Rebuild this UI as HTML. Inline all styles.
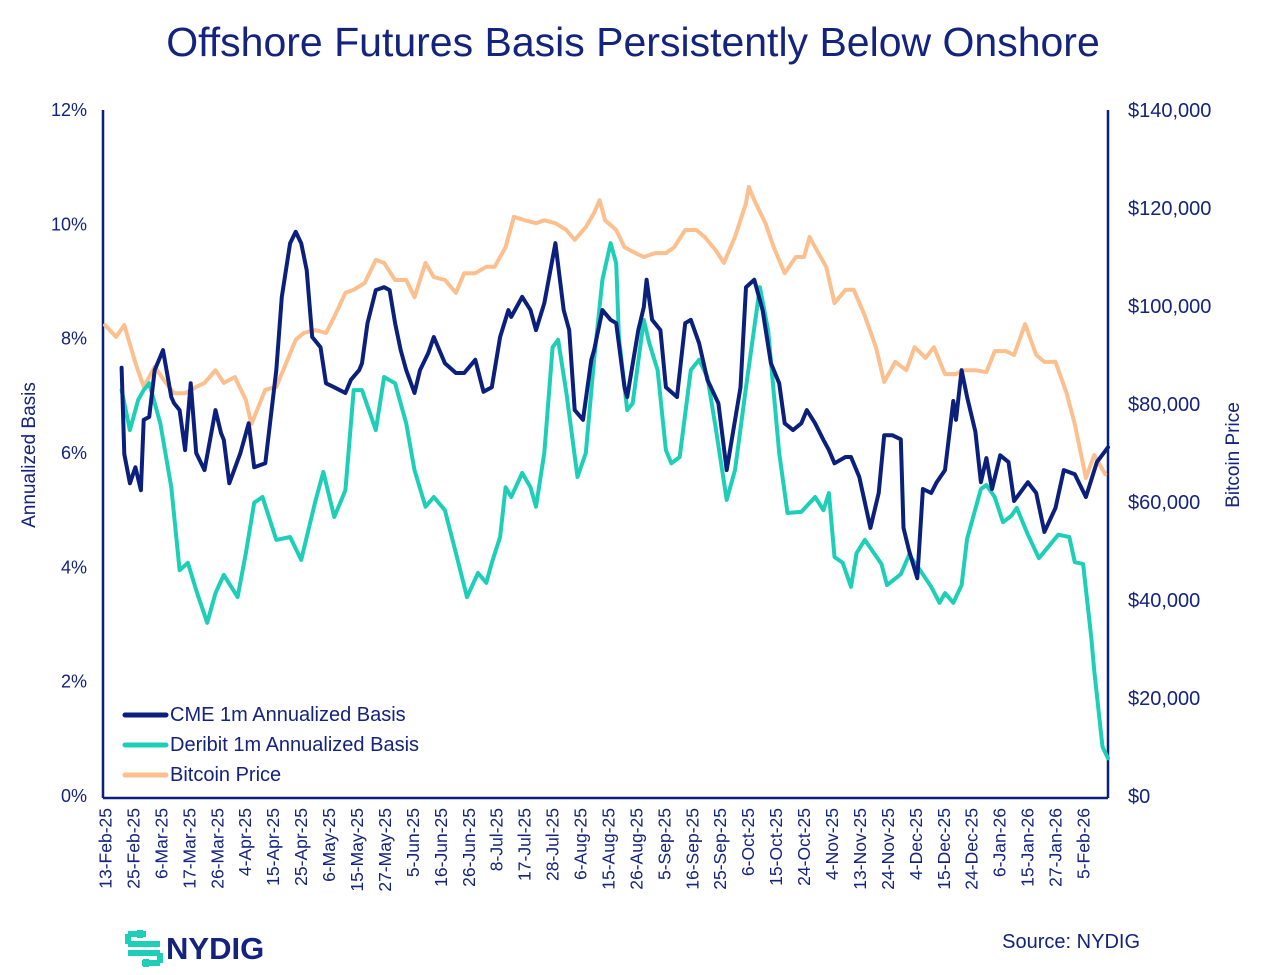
<!DOCTYPE html>
<html><head><meta charset="utf-8"><style>
html,body{margin:0;padding:0;background:#fff;}
svg{display:block;font-family:"Liberation Sans",Arial,sans-serif;}
</style></head><body>
<svg id="chart" width="1267" height="975" viewBox="0 0 1267 975" xmlns="http://www.w3.org/2000/svg">
<text x="633" y="56" text-anchor="middle" font-size="41" fill="#13237e">Offshore Futures Basis Persistently Below Onshore</text>
<g id="axes"></g>
<g id="series"></g>
<g>
<line x1="125" y1="715" x2="166" y2="715" stroke="#0b1f7d" stroke-width="5" stroke-linecap="round"/>
<text x="170" y="721" font-size="20" fill="#13237e">CME 1m Annualized Basis</text>
<line x1="125" y1="745" x2="166" y2="745" stroke="#1ecfb8" stroke-width="5" stroke-linecap="round"/>
<text x="170" y="751" font-size="20" fill="#13237e">Deribit 1m Annualized Basis</text>
<line x1="125" y1="775" x2="166" y2="775" stroke="#fcbf8e" stroke-width="5" stroke-linecap="round"/>
<text x="170" y="781" font-size="20" fill="#13237e">Bitcoin Price</text>
</g>
<g>
<path d="M128 934 H146 M128 934 V944 M128 944 H160 M128 953 H160 M160 953 V963 M142 963 H160 M140 930 V938 M146 959 V967" stroke="#1ecfb8" stroke-width="6" fill="none"/>
<text x="166" y="959" font-size="31" font-weight="bold" fill="#13237e">NYDIG</text>
</g>
<text x="1140" y="948" text-anchor="end" font-size="20" fill="#13237e">Source: NYDIG</text>
</svg>
<script>
const tickLabels=["13-Feb-25","25-Feb-25","6-Mar-25","17-Mar-25","26-Mar-25","4-Apr-25","15-Apr-25","25-Apr-25","6-May-25","15-May-25","27-May-25","5-Jun-25","16-Jun-25","26-Jun-25","8-Jul-25","17-Jul-25","28-Jul-25","6-Aug-25","15-Aug-25","26-Aug-25","5-Sep-25","16-Sep-25","25-Sep-25","6-Oct-25","15-Oct-25","24-Oct-25","4-Nov-25","13-Nov-25","24-Nov-25","4-Dec-25","15-Dec-25","24-Dec-25","6-Jan-26","15-Jan-26","27-Jan-26","5-Feb-26"];
const leftTicks=[0,2,4,6,8,10,12];
const rightTicks=[0,20000,40000,60000,80000,100000,120000,140000];
const priceDays=[0,4,7,11,14,18,22,25,29,33,36,40,43,47,51,53,58,62,65,69,72,76,80,83,87,90,94,98,101,105,109,112,116,119,123,127,130,134,138,141,145,148,152,156,159,163,167,170,174,177,179,181,185,188,192,195,199,203,206,210,214,217,221,224,228,232,233,235,239,242,246,250,253,255,257,261,264,268,271,275,279,282,286,290,293,297,300,304,308,311,315,319,322,326,329,333,337,340,344,348,351,355,358,362];
const priceK=[96.1,93.7,96.1,88.4,83.5,87.6,84.3,82.2,82.2,83.5,84.3,86.9,84.3,85.5,80.8,75.9,82.9,83.5,87.6,93.1,94.5,95.1,94.5,97.8,102.7,103.3,104.7,109.4,108.8,105.3,105.3,101.8,108.8,105.9,105.3,102.7,106.7,106.7,108.0,108.0,112.0,118.2,117.5,116.9,117.5,116.9,115.5,113.5,116.1,119.0,121.6,117.5,115.5,112.0,110.8,110.0,110.8,110.8,112.0,115.5,115.5,114.1,111.4,108.8,114.1,121.0,124.3,121.6,116.9,112.0,106.7,110.0,110.0,114.1,112.0,108.0,100.6,103.3,103.3,98.0,91.6,84.5,88.6,86.9,91.6,89.4,91.6,86.1,86.1,86.9,86.9,86.5,90.8,90.8,90.0,96.3,90.0,88.6,88.6,82.2,75.9,64.9,69.6,65.7];
const cmeDays=[6,7,9,11,13,14,16,18,21,24,25,27,29,31,33,36,40,42,43,45,49,52,54,58,62,64,67,69,71,73,75,78,80,83,87,89,92,93,95,98,101,103,105,107,109,112,114,117,119,123,127,130,134,137,140,143,146,147,151,154,156,159,163,166,168,170,173,176,177,180,183,185,188,189,193,195,196,198,201,203,207,210,212,215,218,222,225,230,232,235,238,241,244,246,249,252,254,257,260,262,264,268,270,273,277,280,282,285,288,289,291,294,296,299,301,304,307,308,310,312,315,317,319,321,324,327,329,334,337,340,344,347,351,355,359,363];
const cmeBasis=[7.49,5.98,5.47,5.75,5.35,6.58,6.63,7.45,7.80,6.98,6.87,6.75,6.05,7.22,6.00,5.70,6.75,6.35,6.23,5.47,6.00,6.52,5.75,5.82,7.45,8.73,9.67,9.87,9.67,9.20,8.03,7.85,7.22,7.15,7.05,7.28,7.45,7.57,8.27,8.85,8.90,8.85,8.27,7.80,7.45,7.05,7.45,7.75,8.03,7.57,7.40,7.40,7.63,7.07,7.15,8.03,8.50,8.38,8.73,8.50,8.15,8.62,9.67,8.50,8.15,6.75,6.58,7.63,7.80,8.50,8.33,8.27,7.15,6.98,8.15,8.55,9.03,8.33,8.15,7.15,6.98,8.27,8.33,7.92,7.28,6.87,5.70,7.15,8.90,9.03,8.50,7.57,7.22,6.52,6.40,6.52,6.75,6.52,6.23,6.05,5.82,5.93,5.93,5.58,4.69,5.30,6.31,6.31,6.24,4.69,4.29,3.81,5.37,5.30,5.49,5.70,6.91,6.58,7.45,6.98,6.37,5.49,5.91,5.37,5.96,5.84,5.16,5.49,5.30,4.62,5.04,5.70,5.63,5.23,5.84,6.10];
const deribitDays=[6,9,12,14,16,20,24,27,30,33,37,40,43,48,51,54,57,62,67,71,76,79,83,87,90,93,98,101,105,109,112,116,119,123,127,131,135,138,140,143,145,147,151,154,156,159,162,164,167,171,174,177,180,183,185,186,189,191,195,197,200,203,205,208,212,215,218,221,225,228,232,237,240,244,247,252,257,260,262,264,267,270,272,275,281,283,288,291,295,299,302,304,307,310,312,317,319,322,325,328,330,334,338,345,349,351,354,357,358,361,363];
const deribitBasis=[7.10,6.40,6.93,7.10,7.22,6.52,5.40,3.95,4.08,3.60,3.03,3.55,3.87,3.48,4.25,5.13,5.23,4.48,4.53,4.13,5.13,5.67,4.88,5.35,7.10,7.10,6.40,7.33,7.22,6.52,5.70,5.06,5.23,5.00,4.25,3.48,3.90,3.73,4.08,4.53,5.40,5.23,5.65,5.40,5.06,6.00,7.85,7.98,7.05,5.58,6.00,7.63,9.03,9.67,9.32,8.03,6.75,6.87,8.33,7.92,7.45,6.05,5.82,5.93,7.45,7.63,7.33,6.45,5.18,5.70,7.15,8.90,8.15,6.00,4.95,4.97,5.23,5.00,5.30,4.18,4.08,3.66,4.25,4.48,4.06,3.69,3.88,4.22,3.95,3.66,3.38,3.55,3.38,3.69,4.50,5.37,5.44,5.23,4.79,4.90,5.04,4.57,4.16,4.57,4.53,4.09,4.06,2.75,2.20,0.86,0.66];

const NS="http://www.w3.org/2000/svg";
const X0=105,X1=1108,DAYMAX=363,YB=796,YT=110;
function xDay(d){return X0+(X1-X0)*d/DAYMAX;}
function yPct(p){return YB-(YB-YT)*p/12;}
function yPrice(v){return YB-(YB-YT)*v/140000;}
function mk(tag,attrs,parent){const e=document.createElementNS(NS,tag);for(const k in attrs)e.setAttribute(k,attrs[k]);parent.appendChild(e);return e;}
const axes=document.getElementById('axes');
const series=document.getElementById('series');
const navy="#13237e";

let l=mk('line',{x1:103,y1:YT,x2:103,y2:798,stroke:"#0b1f7d","stroke-width":2.5},axes);


l=mk('line',{x1:1108,y1:YT,x2:1108,y2:798,stroke:"#0b1f7d","stroke-width":2.5},axes);


l=mk('line',{x1:103,y1:798,x2:1108,y2:798,stroke:"#0b1f7d","stroke-width":2.5},axes);



leftTicks.forEach(v=>{const t=mk('text',{x:87,y:yPct(v)+6,"text-anchor":"end","font-size":18,fill:navy},axes);t.textContent=v+"%";

});
rightTicks.forEach(v=>{const t=mk('text',{x:1128,y:yPrice(v)+7,"font-size":20,fill:navy},axes);t.textContent="$"+v.toLocaleString('en-US');

});
let t=mk('text',{transform:"translate(35,455) rotate(-90)","text-anchor":"middle","font-size":19,fill:navy},axes);t.textContent="Annualized Basis";


t=mk('text',{transform:"translate(1239,455) rotate(-90)","text-anchor":"middle","font-size":19,fill:navy},axes);t.textContent="Bitcoin Price";


const step=(1083-105)/(tickLabels.length-1);
tickLabels.forEach((s,i)=>{const x=105+i*step;const e=mk('text',{transform:`translate(${x+6.5},808) rotate(-90)`,"text-anchor":"end","font-size":17.5,fill:navy},axes);e.textContent=s;

});

function line(days,vals,yf,color,name){const d=days.map((dd,i)=>(i?'L':'M')+xDay(dd).toFixed(1)+' '+yf(vals[i]).toFixed(1)).join(' ');
const p=mk('path',{d:d,fill:"none",stroke:color,"stroke-width":4,"stroke-linejoin":"round","stroke-linecap":"round"},series);

}
line(priceDays,priceK.map(v=>v*1000),yPrice,"#fcbf8e","bitcoin-price-line");
line(deribitDays,deribitBasis,yPct,"#1ecfb8","deribit-basis-line");
line(cmeDays,cmeBasis,yPct,"#0b1f7d","cme-basis-line");
</script>
</body></html>
